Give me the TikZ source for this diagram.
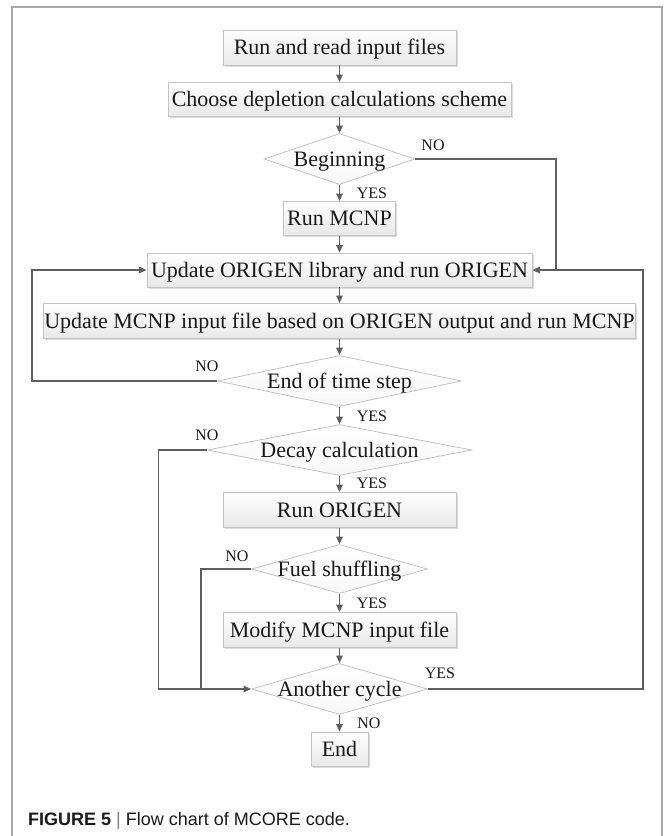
\documentclass[tikz,border=0pt]{standalone}
\usepackage{fontspec}
\setmainfont{Liberation Serif}
\newfontfamily\capfont{Liberation Sans}
\usetikzlibrary{shapes.geometric,arrows.meta,shadows}
\definecolor{linec}{HTML}{5F5F5F}
\definecolor{boxb}{HTML}{C4C4C4}
\definecolor{framec}{HTML}{A8A8A8}
\definecolor{txt}{HTML}{1A1A1A}
\begin{document}
\begin{tikzpicture}[x=1pt,y=-1pt,
  box/.style={rectangle, draw=boxb, line width=0.8pt, top color=white, bottom color=gray!18,
    inner sep=0pt, text=txt, font=\fontsize{22}{24}\selectfont, text height=14.5pt, text depth=0pt,
    drop shadow={shadow xshift=1.5pt, shadow yshift=-1.5pt, fill=gray!60, opacity=0.45}},
  dia/.style={diamond, draw=boxb, line width=0.8pt, top color=white, bottom color=gray!6,
    inner sep=0pt, text=txt, font=\fontsize{22}{24}\selectfont, text height=14.5pt, text depth=0pt},
  conn/.style={draw=linec, line width=1.4pt},
  arr/.style={conn, -{Triangle[length=7.5pt,width=6.5pt]}},
  lab/.style={font=\fontsize{16}{18}\selectfont, inner sep=0pt, text=txt, text height=11pt, text depth=0pt}]
\useasboundingbox (0,0) rectangle (667,836);
\fill[white] (0,0) rectangle (667,836);
\draw[framec, line width=2pt] (12,840) -- (12,7) -- (662,7) -- (662,840);

% nodes
\node[box, minimum width=233pt, minimum height=35pt] (b1) at (339.5,47.5) {Run and read input files};
\node[box, minimum width=343pt, minimum height=34pt] (b2) at (339.5,99.5) {Choose depletion calculations scheme};
\node[dia, minimum width=151pt, minimum height=51pt] (d1) at (339.5,159) {\makebox[0pt]{Beginning}};
\node[box, minimum width=112pt, minimum height=34pt] (b3) at (339.5,218.5) {Run MCNP};
\node[box, minimum width=385pt, minimum height=34pt] (b4) at (339.5,270) {Update ORIGEN library and run ORIGEN};
\node[box, minimum width=592pt, minimum height=35pt] (b5) at (339.5,321) {Update MCNP input file based on ORIGEN output and run MCNP};
\node[dia, minimum width=244pt, minimum height=51pt] (d2) at (339.5,381) {\makebox[0pt]{End of time step}};
\node[dia, minimum width=265pt, minimum height=51pt] (d3) at (339.5,450) {\makebox[0pt]{Decay calculation}};
\node[box, minimum width=233pt, minimum height=35pt] (b6) at (339.5,510) {Run ORIGEN};
\node[dia, minimum width=176pt, minimum height=49pt] (d4) at (339.5,569) {\makebox[0pt]{Fuel shuffling}};
\node[box, minimum width=233pt, minimum height=35pt] (b7) at (339.5,630) {Modify MCNP input file};
\node[dia, minimum width=176pt, minimum height=51pt] (d5) at (339.5,689) {\makebox[0pt]{Another cycle}};
\node[box, minimum width=57pt, minimum height=34pt] (b8) at (339.5,749) {End};

% bend coordinates
\coordinate (r1) at (556,159);
\coordinate (r2) at (556,270);
\coordinate (r3) at (643,689);
\coordinate (r4) at (643,270);
\coordinate (l1) at (32,381);
\coordinate (l2) at (32,270);
\coordinate (l3) at (158.5,450);
\coordinate (l4) at (158.5,689);
\coordinate (l5) at (201,569);
\coordinate (l6) at (201,689);

% straight connectors
\draw[arr] (b1) -- (b2);
\draw[arr] (b2) -- (d1);
\draw[arr] (d1) -- (b3);
\draw[arr] (b3) -- (b4);
\draw[arr] (b4) -- (b5);
\draw[arr] (b5) -- (d2);
\draw[arr] (d2) -- (d3);
\draw[arr] (d3) -- (b6);
\draw[arr] (b6) -- (d4);
\draw[arr] (d4) -- (b7);
\draw[arr] (b7) -- (d5);
\draw[arr] (d5) -- (b8);

% loops
\draw[conn] (d1.east) -- (r1) -- (r2);
\draw[arr] (d5.east) -- (r3) -- (r4) -- (b4.east);
\draw[arr] (d2.west) -- (l1) -- (l2) -- (b4.west);
\draw[arr] (d3.west) -- (l3) -- (l4) -- (d5.west);
\draw[conn] (d4.west) -- (l5) -- (l6);

% labels
\node[lab] (n1) at (433,145) {NO};
\node[lab] (y1) at (372,193) {YES};
\node[lab] (n2) at (207,366) {NO};
\node[lab] (y2) at (372,416) {YES};
\node[lab] (n3) at (207,435) {NO};
\node[lab] (y3) at (372,483) {YES};
\node[lab] (n4) at (237,556) {NO};
\node[lab] (y4) at (372,603) {YES};
\node[lab] (y5) at (440,673) {YES};
\node[lab] (n5) at (369,723) {NO};

% caption
\node[anchor=base west, inner sep=0pt, text=txt, font=\capfont\fontsize{18}{20}\selectfont] (cap) at (28,825)
  {\textbf{FIGURE 5}\hspace{5pt}{\color{gray}|}\hspace{5pt}Flow chart of MCORE code.};
\end{tikzpicture}
\end{document}
